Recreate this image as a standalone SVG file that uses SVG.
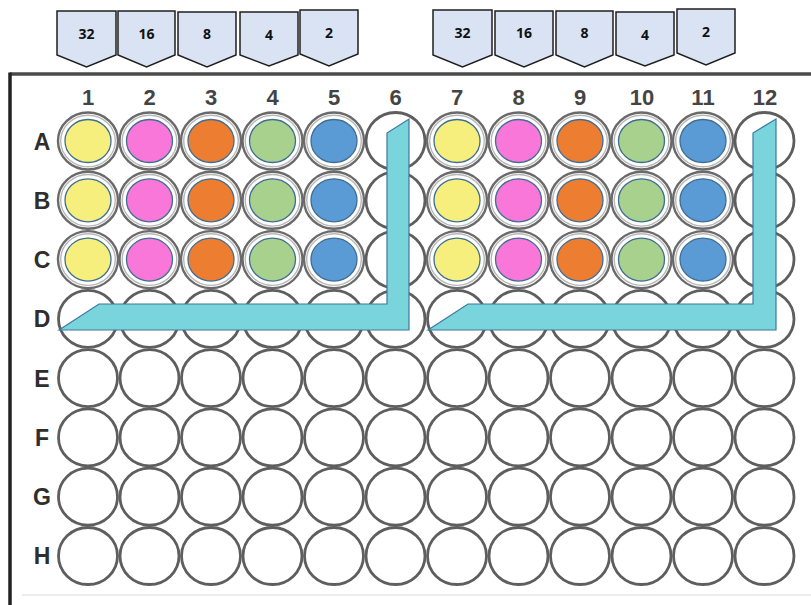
<svg xmlns="http://www.w3.org/2000/svg" xmlns:xlink="http://www.w3.org/1999/xlink" width="811" height="605" viewBox="0 0 811 605">
<style>
.lbl{fill:#DAE3F3;stroke:#1f1f1f;stroke-width:1.5;stroke-linejoin:miter}
.lt{font-family:"Open Sans","Liberation Sans",sans-serif;font-weight:bold;font-size:14px;fill:#111;text-anchor:middle}
.num{font-family:"Liberation Sans",Arial,sans-serif;font-weight:bold;font-size:22px;fill:#444;text-anchor:middle}
.row{font-family:"Liberation Sans",Arial,sans-serif;font-weight:bold;font-size:23px;fill:#2e2e2e;text-anchor:middle}
.ring{fill:none;stroke:#5e5e5e;stroke-width:2.8}
.ringc{fill:none;stroke:#6a6a6a;stroke-width:2.4}
.ring2{fill:none;stroke:#b8b8b8;stroke-width:1.4}
.inner{stroke:#3F6E94;stroke-width:1.3}
.y{fill:#F6EF7D}.p{fill:#F877D8}.o{fill:#ED7D31}.g{fill:#A9D18E}.b{fill:#5B9BD5}
.bar{fill:#79D5DB;stroke:#3B78A0;stroke-width:1.2;stroke-linejoin:miter}
</style>
<defs>
<g id="w">
<ellipse class="ring" cx="0" cy="0" rx="29.5" ry="28.5"/>
</g>
<g id="cw">
<ellipse class="ringc" cx="0" cy="0" rx="30" ry="28.5"/>
<ellipse class="ring2" cx="0" cy="0" rx="27.3" ry="25.8"/>
<ellipse class="inner" cx="0" cy="0" rx="23" ry="21.5"/>
</g>
</defs>
<rect width="811" height="605" fill="#ffffff"/>
<g id="plate-frame">
<line x1="10" y1="74" x2="811" y2="74" stroke="#4a4a4a" stroke-width="3.5"/>
<line x1="10" y1="72.5" x2="10" y2="605" stroke="#222" stroke-width="3.5"/>
<line x1="22" y1="595" x2="811" y2="595" stroke="#e6e6e6" stroke-width="1.5"/>
</g>
<g id="column-numbers">
<text class="num" x="88" y="105">1</text>
<text class="num" x="149.5" y="105">2</text>
<text class="num" x="211" y="105">3</text>
<text class="num" x="272.5" y="105">4</text>
<text class="num" x="334" y="105">5</text>
<text class="num" x="395.5" y="105">6</text>
<text class="num" x="457" y="105">7</text>
<text class="num" x="518.5" y="105">8</text>
<text class="num" x="580" y="105">9</text>
<text class="num" x="642" y="105">10</text>
<text class="num" x="703" y="105">11</text>
<text class="num" x="765" y="105">12</text>
</g>
<g id="row-letters">
<text class="row" x="42" y="149.5">A</text>
<text class="row" x="42" y="208.8">B</text>
<text class="row" x="42" y="268">C</text>
<text class="row" x="42" y="327.3">D</text>
<text class="row" x="42" y="386.5">E</text>
<text class="row" x="42" y="445.8">F</text>
<text class="row" x="42" y="505">G</text>
<text class="row" x="42" y="564.4">H</text>
</g>
<g id="wells">
<g id="row-A">
<use href="#cw" class="y" x="88" y="141"/><use href="#cw" class="p" x="149.5" y="141"/><use href="#cw" class="o" x="211" y="141"/><use href="#cw" class="g" x="272.5" y="141"/><use href="#cw" class="b" x="334" y="141"/><use href="#w" x="395.5" y="141"/>
<use href="#cw" class="y" x="457" y="141"/><use href="#cw" class="p" x="518.5" y="141"/><use href="#cw" class="o" x="580" y="141"/><use href="#cw" class="g" x="641.5" y="141"/><use href="#cw" class="b" x="703" y="141"/><use href="#w" x="764.5" y="141"/>
</g>
<g id="row-B">
<use href="#cw" class="y" x="88" y="200.3"/><use href="#cw" class="p" x="149.5" y="200.3"/><use href="#cw" class="o" x="211" y="200.3"/><use href="#cw" class="g" x="272.5" y="200.3"/><use href="#cw" class="b" x="334" y="200.3"/><use href="#w" x="395.5" y="200.3"/>
<use href="#cw" class="y" x="457" y="200.3"/><use href="#cw" class="p" x="518.5" y="200.3"/><use href="#cw" class="o" x="580" y="200.3"/><use href="#cw" class="g" x="641.5" y="200.3"/><use href="#cw" class="b" x="703" y="200.3"/><use href="#w" x="764.5" y="200.3"/>
</g>
<g id="row-C">
<use href="#cw" class="y" x="88" y="259.6"/><use href="#cw" class="p" x="149.5" y="259.6"/><use href="#cw" class="o" x="211" y="259.6"/><use href="#cw" class="g" x="272.5" y="259.6"/><use href="#cw" class="b" x="334" y="259.6"/><use href="#w" x="395.5" y="259.6"/>
<use href="#cw" class="y" x="457" y="259.6"/><use href="#cw" class="p" x="518.5" y="259.6"/><use href="#cw" class="o" x="580" y="259.6"/><use href="#cw" class="g" x="641.5" y="259.6"/><use href="#cw" class="b" x="703" y="259.6"/><use href="#w" x="764.5" y="259.6"/>
</g>
<g id="row-D">
<use href="#w" x="88" y="318.9"/><use href="#w" x="149.5" y="318.9"/><use href="#w" x="211" y="318.9"/><use href="#w" x="272.5" y="318.9"/><use href="#w" x="334" y="318.9"/><use href="#w" x="395.5" y="318.9"/>
<use href="#w" x="457" y="318.9"/><use href="#w" x="518.5" y="318.9"/><use href="#w" x="580" y="318.9"/><use href="#w" x="641.5" y="318.9"/><use href="#w" x="703" y="318.9"/><use href="#w" x="764.5" y="318.9"/>
</g>
<g id="row-E">
<use href="#w" x="88" y="378.1"/><use href="#w" x="149.5" y="378.1"/><use href="#w" x="211" y="378.1"/><use href="#w" x="272.5" y="378.1"/><use href="#w" x="334" y="378.1"/><use href="#w" x="395.5" y="378.1"/>
<use href="#w" x="457" y="378.1"/><use href="#w" x="518.5" y="378.1"/><use href="#w" x="580" y="378.1"/><use href="#w" x="641.5" y="378.1"/><use href="#w" x="703" y="378.1"/><use href="#w" x="764.5" y="378.1"/>
</g>
<g id="row-F">
<use href="#w" x="88" y="437.4"/><use href="#w" x="149.5" y="437.4"/><use href="#w" x="211" y="437.4"/><use href="#w" x="272.5" y="437.4"/><use href="#w" x="334" y="437.4"/><use href="#w" x="395.5" y="437.4"/>
<use href="#w" x="457" y="437.4"/><use href="#w" x="518.5" y="437.4"/><use href="#w" x="580" y="437.4"/><use href="#w" x="641.5" y="437.4"/><use href="#w" x="703" y="437.4"/><use href="#w" x="764.5" y="437.4"/>
</g>
<g id="row-G">
<use href="#w" x="88" y="496.7"/><use href="#w" x="149.5" y="496.7"/><use href="#w" x="211" y="496.7"/><use href="#w" x="272.5" y="496.7"/><use href="#w" x="334" y="496.7"/><use href="#w" x="395.5" y="496.7"/>
<use href="#w" x="457" y="496.7"/><use href="#w" x="518.5" y="496.7"/><use href="#w" x="580" y="496.7"/><use href="#w" x="641.5" y="496.7"/><use href="#w" x="703" y="496.7"/><use href="#w" x="764.5" y="496.7"/>
</g>
<g id="row-H">
<use href="#w" x="88" y="556"/><use href="#w" x="149.5" y="556"/><use href="#w" x="211" y="556"/><use href="#w" x="272.5" y="556"/><use href="#w" x="334" y="556"/><use href="#w" x="395.5" y="556"/>
<use href="#w" x="457" y="556"/><use href="#w" x="518.5" y="556"/><use href="#w" x="580" y="556"/><use href="#w" x="641.5" y="556"/><use href="#w" x="703" y="556"/><use href="#w" x="764.5" y="556"/>
</g>
</g>
<g id="connectors">
<polygon id="L-left" class="bar" points="59,330 99,304 387,304 387,133 409,119 409,330"/>
<polygon id="L-right" class="bar" points="428,330 468,304 753,304 753,133 776,119 776,330"/>
</g>
<g id="dilution-labels">
<g id="lbl-32a"><polygon class="lbl" points="57,11 116,11 116,55 86.5,67 57,55"/><text class="lt" x="86.5" y="39">32</text></g>
<g id="lbl-16a"><polygon class="lbl" points="118,11 175,11 175,55 146.5,67 118,55"/><text class="lt" x="146.5" y="39">16</text></g>
<g id="lbl-8a"><polygon class="lbl" points="178,12 236,12 236,55 207,67 178,55"/><text class="lt" x="207" y="39">8</text></g>
<g id="lbl-4a"><polygon class="lbl" points="240,12 298,12 298,55 269,66 240,55"/><text class="lt" x="269" y="40">4</text></g>
<g id="lbl-2a"><polygon class="lbl" points="300,10 358,10 358,54 329,66 300,54"/><text class="lt" x="329" y="38">2</text></g>
<g id="lbl-32b"><polygon class="lbl" points="433,10 492,10 492,55 462.5,67 433,55"/><text class="lt" x="462.5" y="38">32</text></g>
<g id="lbl-16b"><polygon class="lbl" points="495,11 553,11 553,55 524,67 495,55"/><text class="lt" x="524" y="38">16</text></g>
<g id="lbl-8b"><polygon class="lbl" points="556,11 613,11 613,55 584.5,67 556,55"/><text class="lt" x="584.5" y="38">8</text></g>
<g id="lbl-4b"><polygon class="lbl" points="616,12 674,12 674,55 645,66 616,55"/><text class="lt" x="645" y="40">4</text></g>
<g id="lbl-2b"><polygon class="lbl" points="677,9 735,9 735,53 706,65 677,53"/><text class="lt" x="706" y="37">2</text></g>
</g>
</svg>
